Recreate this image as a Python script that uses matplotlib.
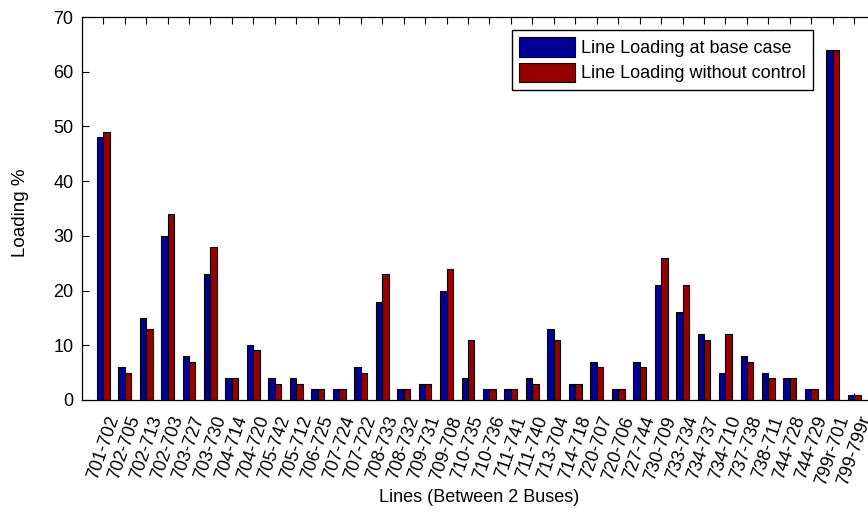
import numpy as np
import matplotlib
matplotlib.use("Agg")
import matplotlib.pyplot as plt

plt.rcParams['font.family'] = ['Liberation Sans', 'DejaVu Sans']

# Transmission lines (from-bus / to-bus)
lines = ["701-702", "702-705", "702-713", "702-703", "703-727", "703-730",
         "704-714", "704-720", "705-742", "705-712", "706-725", "707-724",
         "707-722", "708-733", "708-732", "709-731", "709-708", "710-735",
         "710-736", "711-741", "711-740", "713-704", "714-718", "720-707",
         "720-706", "727-744", "730-709", "733-734", "734-737", "734-710",
         "737-738", "738-711", "744-728", "744-729", "799r-701", "799-799r"]

# Line loading (%) at the base case
loading_base = [48, 6, 15, 30, 8, 23,
                4, 10, 4, 4, 2, 2,
                6, 18, 2, 3, 20, 4,
                2, 2, 4, 13, 3, 7,
                2, 7, 21, 16, 12, 5,
                8, 5, 4, 2, 64, 1]

# Line loading (%) without control
loading_nocontrol = [49, 5, 13, 34, 7, 28,
                     4, 9.2, 3, 3, 2, 2,
                     5, 23, 2, 3, 24, 11,
                     2, 2, 3, 11, 3, 6,
                     2, 6, 26, 21, 11, 12,
                     7, 4, 4, 2, 64, 1]

yticks = [0, 10, 20, 30, 40, 50, 60, 70]

W, H = 868, 514
fig = plt.figure(figsize=(W / 100, H / 100), dpi=100)
ax_w = 794
ax = fig.add_axes([81.7 / W, 114 / H, ax_w / W, 383 / H])

x = np.arange(1, len(lines) + 1)
bw = 0.3
ax.bar(x - bw / 2, loading_base, width=bw, color="#000096", edgecolor="black",
       linewidth=0.8, label="Line Loading at base case", zorder=2)
ax.bar(x + bw / 2, loading_nocontrol, width=bw, color="#960000", edgecolor="black",
       linewidth=0.8, label="Line Loading without control", zorder=2)

ax.set_xlim(0, 37)
ax.set_ylim(0, 70)
ax.set_yticks(yticks)
ax.set_xticks(x)
ax.set_xticklabels(lines, rotation=71, ha="center", va="top", fontsize=13.5)
ax.tick_params(direction="in", top=True, right=True, length=5, width=0.8,
               labelsize=13)
ax.tick_params(axis="x", pad=10)
ax.tick_params(axis="y", pad=6)
for s in ax.spines.values():
    s.set_linewidth(0.9)

ax.set_ylabel("Loading %", fontsize=13.5)
ax.yaxis.set_label_coords((29 - 81.7) / ax_w, 0.488)
ax.set_xlabel("Lines (Between 2 Buses)", fontsize=13, labelpad=1)

leg = ax.legend(loc="upper right", bbox_to_anchor=(813 / W, 1 - 30 / H),
                bbox_transform=fig.transFigure, fontsize=13, frameon=True,
                fancybox=False, edgecolor="black", framealpha=1,
                handlelength=3.1, handleheight=1.3, handletextpad=0.35,
                labelspacing=0.3, borderpad=0.4, borderaxespad=0)
leg.get_frame().set_linewidth(1.0)

fig.savefig("out.png", dpi=100)
